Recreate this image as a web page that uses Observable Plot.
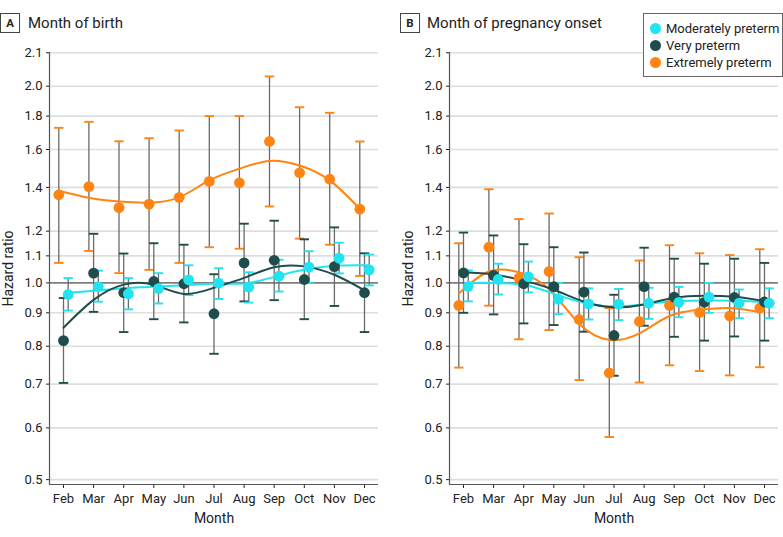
<!DOCTYPE html>
<html>
<head>
<meta charset="utf-8">
<script src="https://cdn.jsdelivr.net/npm/d3@7"></script>
<script src="https://cdn.jsdelivr.net/npm/@observablehq/plot@0.6"></script>
<style>
  body { margin: 0; background: #fff; }
  #wrap { position: relative; width: 783px; height: 537px; font-family: Roboto, sans-serif; color: #222; overflow: hidden; }
  .panel { position: absolute; top: 0; height: 537px; }
  .head { position: relative; height: 40px; }
  .tag { position: absolute; top: 13px; width: 20px; height: 20px; border: 1px solid #444; box-sizing: border-box;
         font-weight: bold; font-size: 11.5px; display: flex; align-items: center; justify-content: center; }
  .ttl { position: absolute; top: 12px; line-height: 22px; font-size: 15px; }
  .legend { position: absolute; left: 643px; top: 13px; width: 140px; height: 64px; border: 1px solid #666;
            box-sizing: border-box; background: #fff; z-index: 5; font-size: 13px; }
  .item { position: absolute; left: 6px; height: 15px; line-height: 15px; white-space: nowrap; }
  .sw { display: inline-block; width: 11px; height: 11px; border-radius: 50%; vertical-align: -1px; margin-right: 5px; }
  svg [aria-label="x-axis label"], svg [aria-label="y-axis label"] { font-size: 14px; }
</style>
</head>
<body>
<div id="wrap">
  <div class="panel" id="panelA" style="left:0;width:390px">
    <div class="head"><div class="tag" style="left:0">A</div><div class="ttl" style="left:28px">Month of birth</div></div>
  </div>
  <div class="panel" id="panelB" style="left:390px;width:393px">
    <div class="head"><div class="tag" style="left:10px">B</div><div class="ttl" style="left:37px">Month of pregnancy onset</div></div>
  </div>
  <div class="legend" id="legend"></div>
</div>
<script>
// ---------- data ----------
const monthLabels = ["Feb", "Mar", "Apr", "May", "Jun", "Jul", "Aug", "Sep", "Oct", "Nov", "Dec"];
const monthNums   = [2, 3, 4, 5, 6, 7, 8, 9, 10, 11, 12];

const yTicks      = [0.5, 0.6, 0.7, 0.8, 0.9, 1.0, 1.1, 1.2, 1.4, 1.6, 1.8, 2.0, 2.25];
const yTickLabels = ["0.5", "0.6", "0.7", "0.8", "0.9", "1.0", "1.1", "1.2", "1.4", "1.6", "1.8", "2.0", "2.1"];

const seriesNames = ["Moderately preterm", "Very preterm", "Extremely preterm"];

// Panel A: month of birth
const birthModHR   = [0.960, 0.987, 0.962, 0.980, 1.011, 0.999, 0.985, 1.024, 1.057, 1.091, 1.047];
const birthModLo   = [0.907, 0.936, 0.911, 0.930, 0.958, 0.945, 0.933, 0.970, 1.001, 1.034, 0.991];
const birthModHi   = [1.017, 1.044, 1.017, 1.035, 1.064, 1.053, 1.038, 1.085, 1.118, 1.152, 1.105];
const birthModFit  = [0.966, 0.974, 0.982, 0.987, 0.993, 0.997, 1.000, 1.026, 1.051, 1.063, 1.064];

const birthVeryHR  = [0.816, 1.035, 0.966, 1.005, 0.997, 0.897, 1.073, 1.083, 1.012, 1.059, 0.966];
const birthVeryLo  = [0.703, 0.903, 0.841, 0.880, 0.870, 0.779, 0.937, 0.941, 0.880, 0.922, 0.841];
const birthVeryHi  = [0.948, 1.189, 1.109, 1.150, 1.144, 1.031, 1.232, 1.245, 1.166, 1.216, 1.110];
const birthVeryFit = [0.854, 0.942, 0.994, 0.993, 0.962, 0.983, 1.018, 1.057, 1.060, 1.029, 0.974];

const birthExtHR   = [1.364, 1.404, 1.304, 1.320, 1.352, 1.430, 1.423, 1.646, 1.474, 1.441, 1.297];
const birthExtLo   = [1.073, 1.119, 1.035, 1.047, 1.073, 1.134, 1.128, 1.309, 1.169, 1.144, 1.025];
const birthExtHi   = [1.727, 1.764, 1.647, 1.665, 1.711, 1.800, 1.800, 2.070, 1.857, 1.821, 1.646];
const birthExtFit  = [1.384, 1.350, 1.332, 1.327, 1.352, 1.435, 1.495, 1.537, 1.512, 1.435, 1.298];

// Panel B: month of pregnancy onset
const onsetModHR   = [0.988, 1.012, 1.022, 0.944, 0.929, 0.928, 0.931, 0.934, 0.951, 0.931, 0.931];
const onsetModLo   = [0.937, 0.960, 0.967, 0.896, 0.879, 0.877, 0.881, 0.886, 0.900, 0.883, 0.883];
const onsetModHi   = [1.045, 1.070, 1.078, 1.000, 0.981, 0.979, 0.983, 0.986, 1.000, 0.977, 0.981];
const onsetModFit  = [1.000, 1.000, 0.990, 0.957, 0.929, 0.920, 0.929, 0.938, 0.940, 0.939, 0.933];

const onsetVeryHR  = [1.036, 1.027, 0.997, 0.987, 0.968, 0.831, 0.987, 0.951, 0.934, 0.950, 0.935];
const onsetVeryLo  = [0.900, 0.895, 0.867, 0.862, 0.842, 0.721, 0.860, 0.827, 0.816, 0.828, 0.816];
const onsetVeryHi  = [1.194, 1.182, 1.146, 1.134, 1.113, 0.959, 1.132, 1.089, 1.070, 1.089, 1.073];
const onsetVeryFit = [1.037, 1.030, 1.008, 0.976, 0.936, 0.918, 0.927, 0.949, 0.956, 0.952, 0.938];

const onsetExtHR   = [0.924, 1.134, 1.017, 1.041, 0.879, 0.728, 0.873, 0.924, 0.901, 0.890, 0.915];
const onsetExtLo   = [0.742, 0.923, 0.820, 0.847, 0.710, 0.581, 0.704, 0.748, 0.733, 0.722, 0.743];
const onsetExtHi   = [1.150, 1.391, 1.252, 1.277, 1.095, 0.915, 1.082, 1.142, 1.110, 1.103, 1.126];
const onsetExtFit  = [0.963, 1.041, 1.038, 0.978, 0.866, 0.818, 0.837, 0.890, 0.910, 0.915, 0.902];

// ---------- styling ----------
const colors  = {"Moderately preterm": "#22e4f0", "Very preterm": "#1f4d4c", "Extremely preterm": "#ff8412"};
const offsets = {"Moderately preterm": 4.7, "Very preterm": 0, "Extremely preterm": -4.7};
const xDomain = [1.535, 12.465];
const yDomain = [0.4915, 2.252];

const capSymbol = { draw(context) { context.moveTo(-4.7, 0); context.lineTo(4.7, 0); } };

function table(hr, lo, hi, fit) {
  return monthNums.map((m, i) => ({month: m, hr: hr[i], lo: lo[i], hi: hi[i], fit: fit[i]}));
}

function seriesMarks(rows, name) {
  const c = colors[name], dx = offsets[name];
  return {
    bars: [
      Plot.ruleX(rows, {x: "month", y1: "lo", y2: "hi", dx, stroke: "#6a6a6a", strokeWidth: 1.3}),
      Plot.dot(rows, {x: "month", y: "lo", dx, symbol: capSymbol, stroke: c, strokeWidth: 1.9, r: 5}),
      Plot.dot(rows, {x: "month", y: "hi", dx, symbol: capSymbol, stroke: c, strokeWidth: 1.9, r: 5})
    ],
    line: Plot.line(rows, {x: "month", y: "fit", dx, curve: "natural", stroke: c, strokeWidth: 2}),
    dots: Plot.dot(rows, {x: "month", y: "hr", dx, r: 5.4, fill: c})
  };
}

function panel(data, width, ml, mr) {
  const ext = seriesMarks(data["Extremely preterm"], "Extremely preterm");
  const very = seriesMarks(data["Very preterm"], "Very preterm");
  const mod = seriesMarks(data["Moderately preterm"], "Moderately preterm");
  return Plot.plot({
    width, height: 497,
    marginTop: 12, marginBottom: 53, marginLeft: ml, marginRight: mr,
    style: {fontFamily: "Roboto, sans-serif", fontSize: "13px", color: "#222", background: "transparent"},
    x: {domain: xDomain, ticks: monthNums, tickFormat: d => monthLabels[monthNums.indexOf(d)],
        tickSize: 4, tickPadding: 5, label: "Month", labelAnchor: "center", labelOffset: 38, labelArrow: "none"},
    y: {type: "log", domain: yDomain, ticks: yTicks, tickFormat: d => yTickLabels[yTicks.indexOf(d)],
        tickSize: 3, tickPadding: 4, label: "Hazard ratio", labelAnchor: "center", labelOffset: 46, labelArrow: "none"},
    marks: [
      Plot.ruleY(yTicks, {stroke: "#dedede", strokeWidth: 1.6}),
      Plot.ruleY([1], {stroke: "#3a3a3a", strokeWidth: 1}),
      Plot.ruleX([xDomain[0]], {stroke: "#555", strokeWidth: 1.2}),
      Plot.ruleY([yDomain[0]], {stroke: "#555", strokeWidth: 1.2}),
      ...ext.bars, ...very.bars, ...mod.bars,
      ext.line, mod.line, very.line,
      ext.dots, very.dots, mod.dots
    ]
  });
}

const dataA = {
  "Moderately preterm": table(birthModHR, birthModLo, birthModHi, birthModFit),
  "Very preterm": table(birthVeryHR, birthVeryLo, birthVeryHi, birthVeryFit),
  "Extremely preterm": table(birthExtHR, birthExtLo, birthExtHi, birthExtFit)
};
const dataB = {
  "Moderately preterm": table(onsetModHR, onsetModLo, onsetModHi, onsetModFit),
  "Very preterm": table(onsetVeryHR, onsetVeryLo, onsetVeryHi, onsetVeryFit),
  "Extremely preterm": table(onsetExtHR, onsetExtLo, onsetExtHi, onsetExtFit)
};

document.getElementById("panelA").appendChild(panel(dataA, 390, 49, 12));
document.getElementById("panelB").appendChild(panel(dataB, 393, 59, 5));

const legend = document.getElementById("legend");
seriesNames.forEach((name, i) => {
  const it = document.createElement("div");
  it.className = "item";
  it.style.top = (7 + i * 17) + "px";
  it.innerHTML = `<span class="sw" style="background:${colors[name]}"></span>${name}`;
  legend.appendChild(it);
});
</script>
</body>
</html>
